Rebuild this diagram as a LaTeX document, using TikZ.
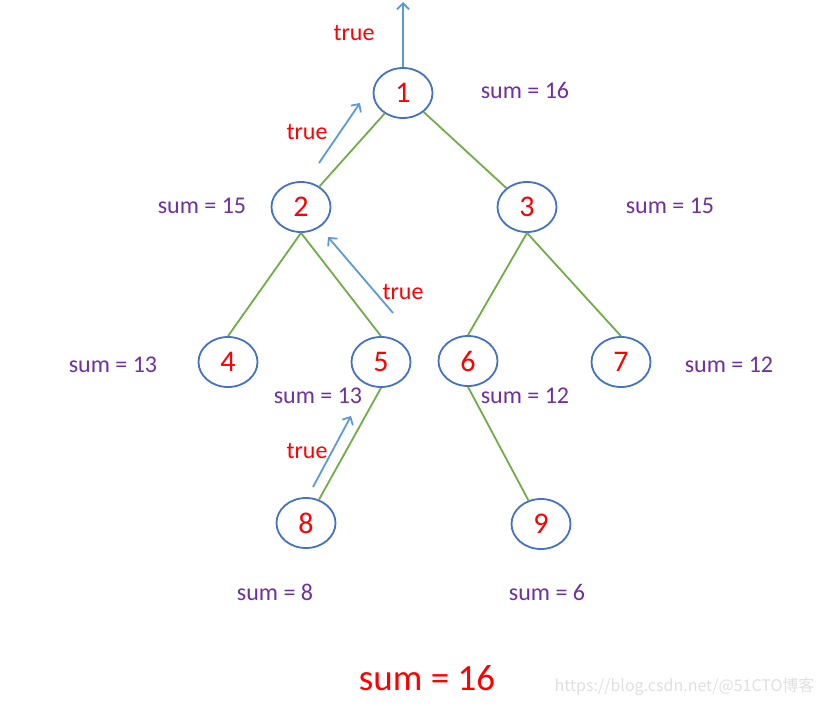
\documentclass[tikz,border=0pt]{standalone}
\usepackage{fontspec}
\setmainfont{Carlito}
\newfontfamily\cjk{Noto Sans CJK SC}
\usetikzlibrary{arrows.meta}
\definecolor{nodeblue}{HTML}{4472C4}
\definecolor{edgegreen}{HTML}{70AD47}
\definecolor{arrblue}{HTML}{5B9BD5}
\definecolor{sumpurple}{HTML}{7030A0}
\tikzset{
  tnode/.style={draw=nodeblue, line width=1.8pt, ellipse, minimum width=59pt, minimum height=50pt, inner sep=0pt, text=red, font=\fontsize{30}{30}\selectfont},
  tedge/.style={draw=edgegreen, line width=1.8pt},
  retarrow/.style={draw=arrblue, line width=1.8pt, -{Straight Barb[length=6pt,width=12pt,line width=1.8pt]}},
  truelab/.style={text=red, font=\fontsize{24}{24}\selectfont},
  sumlab/.style={text=sumpurple, font=\fontsize{24}{24}\selectfont},
}
\usetikzlibrary{shapes.geometric}
\begin{document}
\begin{tikzpicture}[x=1pt,y=-1pt]
\useasboundingbox[fill=white] (0,0) rectangle (824,705);
% nodes
\node[tnode] (n1) at (403,93) {1};
\node[tnode] (n2) at (301,207) {2};
\node[tnode] (n3) at (527,207) {3};
\node[tnode] (n4) at (228,362) {4};
\node[tnode] (n5) at (381,362) {5};
\node[tnode] (n6) at (468,361) {6};
\node[tnode] (n7) at (621,362) {7};
\node[tnode] (n8) at (306,523) {8};
\node[tnode] (n9) at (541,524) {9};
% edges
\draw[tedge] (n1) -- (n2);
\draw[tedge] (n1) -- (n3);
\draw[tedge] (n2.south) -- (n4.north);
\draw[tedge] (n2.south) -- (n5.north);
\draw[tedge] (n3.south) -- (n6.north);
\draw[tedge] (n3.south) -- (n7.north);
\draw[tedge] (n5.south) -- (n8);
\draw[tedge] (n6.south) -- (n9);
% return arrows
\coordinate (a0) at (403,2);
\coordinate (a1s) at (319,163);
\coordinate (a1e) at (360,103);
\coordinate (a2s) at (393,313);
\coordinate (a2e) at (328,237);
\coordinate (a3s) at (313,487);
\coordinate (a3e) at (351,416);
\draw[retarrow] (n1.north) -- (a0);
\draw[retarrow] (a1s) -- (a1e);
\draw[retarrow] (a2s) -- (a2e);
\draw[retarrow] (a3s) -- (a3e);
% true labels
\node[truelab] (t0) at (354,33) {true};
\node[truelab] (t1) at (307,132) {true};
\node[truelab] (t2) at (403,292) {true};
\node[truelab] (t3) at (307,451) {true};
% sum labels
\node[sumlab] (s1) at (525,90) {sum = 16};
\node[sumlab] (s2) at (202,206) {sum = 15};
\node[sumlab] (s3) at (670,206) {sum = 15};
\node[sumlab] (s4) at (113,365) {sum = 13};
\node[sumlab] (s5) at (318,396) {sum = 13};
\node[sumlab] (s6) at (525,396) {sum = 12};
\node[sumlab] (s7) at (729,365) {sum = 12};
\node[sumlab] (s8) at (275,592) {sum = 8};
\node[sumlab] (s9) at (547,592) {sum = 6};
\node[text=red, font=\fontsize{37}{37}\selectfont] (total) at (427,678) {sum = 16};
% watermark
\node[text=black!12, font=\cjk\fontsize{16}{16}\selectfont, anchor=east] (wm) at (818,687) {https://blog.csdn.net/@51CTO博客};
\end{tikzpicture}
\end{document}
